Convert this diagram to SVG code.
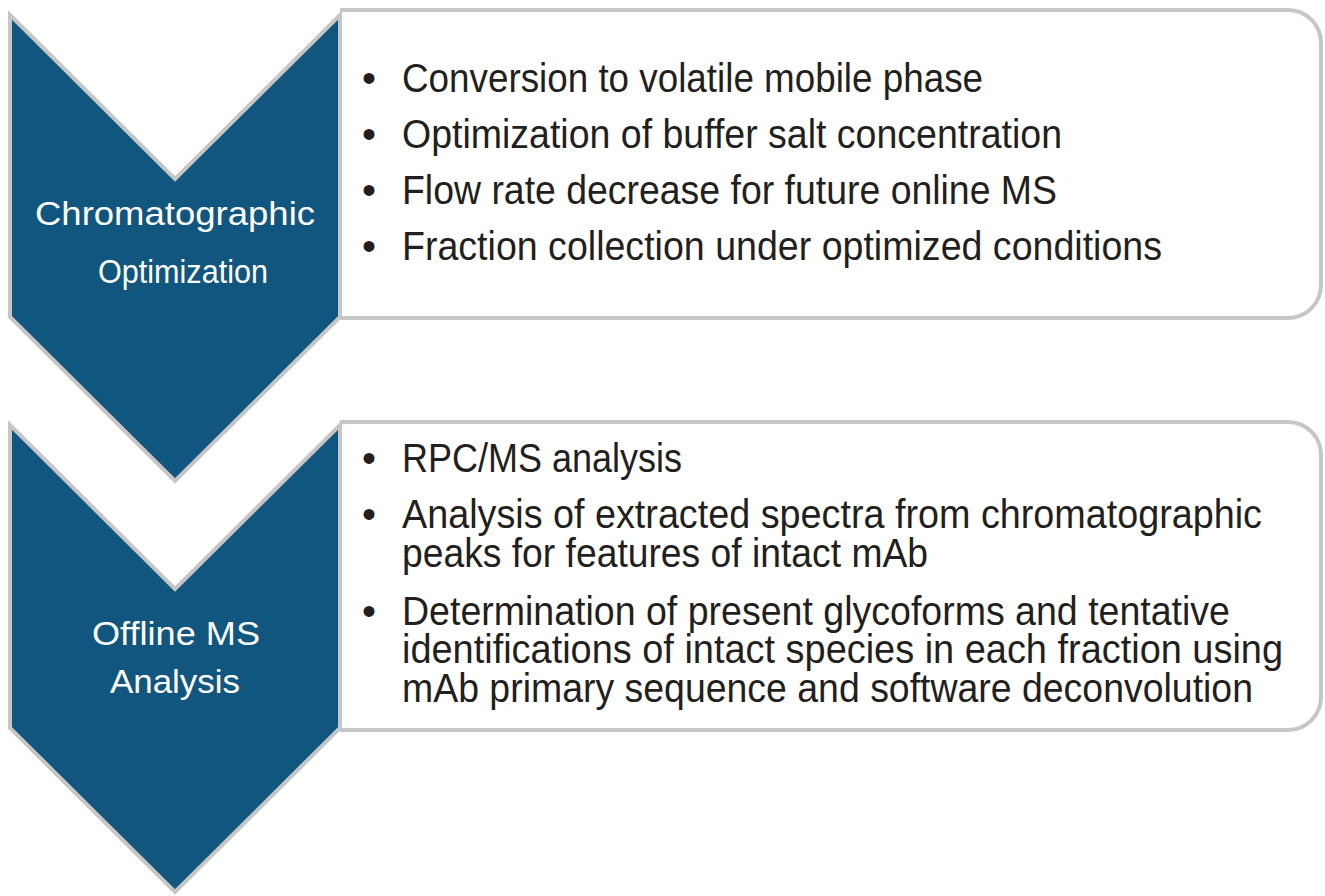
<svg xmlns="http://www.w3.org/2000/svg" width="1325" height="896" viewBox="0 0 1325 896">
<style>
.chev{fill:#11567e;stroke:#c6c6c6;stroke-width:4;stroke-linejoin:miter}
.box{fill:#ffffff;stroke:#c6c6c6;stroke-width:4}
.lbl{font-family:"Liberation Sans",Arial,sans-serif;font-size:33px;fill:#ffffff}
.txt{font-family:"Liberation Sans",Arial,sans-serif;font-size:40px;fill:#231f20}
</style>
<rect width="1325" height="896" fill="#ffffff"/>
<g id="box1">
<path class="box" d="M340,10 H1288 A33,33 0 0 1 1321,43 V285 A33,33 0 0 1 1288,318 H340"/>
<g class="txt">
<text x="362" y="92">•</text><text x="402" y="92" textLength="581" lengthAdjust="spacingAndGlyphs">Conversion to volatile mobile phase</text>
<text x="362" y="148">•</text><text x="402" y="148" textLength="660" lengthAdjust="spacingAndGlyphs">Optimization of buffer salt concentration</text>
<text x="362" y="204">•</text><text x="402" y="204" textLength="655" lengthAdjust="spacingAndGlyphs">Flow rate decrease for future online MS</text>
<text x="362" y="260">•</text><text x="402" y="260" textLength="760" lengthAdjust="spacingAndGlyphs">Fraction collection under optimized conditions</text>
</g>
</g>
<g id="box2">
<path class="box" d="M340,422 H1288 A33,33 0 0 1 1321,455 V697 A33,33 0 0 1 1288,730 H340"/>
<g class="txt">
<text x="362" y="472">•</text><text x="402" y="472" textLength="280" lengthAdjust="spacingAndGlyphs">RPC/MS analysis</text>
<text x="362" y="528">•</text><text x="402" y="528" textLength="860" lengthAdjust="spacingAndGlyphs">Analysis of extracted spectra from chromatographic</text>
<text x="402" y="567" textLength="526" lengthAdjust="spacingAndGlyphs">peaks for features of intact mAb</text>
<text x="362" y="625">•</text><text x="402" y="625" textLength="828" lengthAdjust="spacingAndGlyphs">Determination of present glycoforms and tentative</text>
<text x="402" y="663" textLength="881" lengthAdjust="spacingAndGlyphs">identifications of intact species in each fraction using</text>
<text x="402" y="702" textLength="851" lengthAdjust="spacingAndGlyphs">mAb primary sequence and software deconvolution</text>
</g>
</g>
<g id="chevron1">
<polygon class="chev" points="10,15 175,179 340,15 340,317 175,481 10,317"/>
<text class="lbl" x="35" y="225" textLength="280" lengthAdjust="spacingAndGlyphs">Chromatographic</text>
<text class="lbl" x="98" y="283" textLength="170" lengthAdjust="spacingAndGlyphs">Optimization</text>
</g>
<g id="chevron2">
<polygon class="chev" points="10,425 175,589 340,425 340,728 175,892 10,728"/>
<text class="lbl" x="92" y="645" textLength="168" lengthAdjust="spacingAndGlyphs">Offline MS</text>
<text class="lbl" x="110" y="693" textLength="130" lengthAdjust="spacingAndGlyphs">Analysis</text>
</g>
<g id="connectors"></g>
</svg>
